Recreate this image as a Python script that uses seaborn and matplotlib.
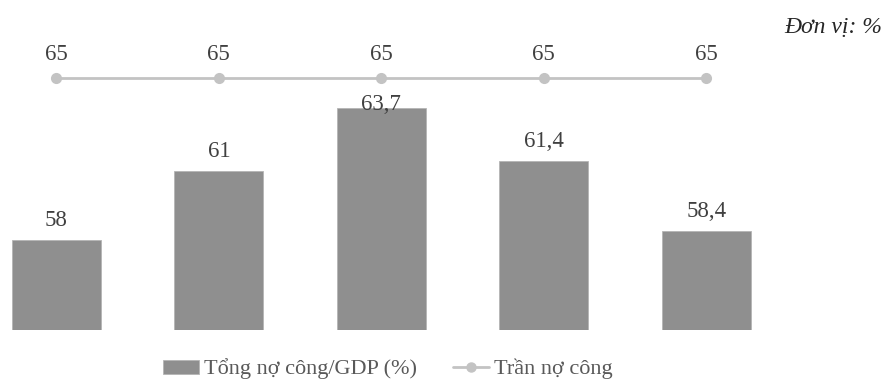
import matplotlib
matplotlib.use("Agg")
import matplotlib.pyplot as plt
import seaborn as sns
import pandas as pd
from matplotlib.patches import Patch
from matplotlib.lines import Line2D

# ---- data ----
years = ["2014", "2015", "2016", "2017", "2018"]
debt_ratio = [58, 61, 63.7, 61.4, 58.4]
debt_ceiling = [65, 65, 65, 65, 65]
debt_labels = ["58", "61", "63,7", "61,4", "58,4"]
ceiling_labels = ["65", "65", "65", "65", "65"]
series_names = ["Tổng nợ công/GDP (%)", "Trần nợ công"]
unit_text = "Đơn vị: %"

df = pd.DataFrame({"year": years, "debt": debt_ratio, "ceiling": debt_ceiling})

sns.set_theme(style="white")
plt.rcParams["font.family"] = ["Liberation Serif", "DejaVu Serif"]

BAR_C = "#8f8f8f"
LINE_C = "#c3c3c3"
TXT_C = "#404040"

fig = plt.figure(figsize=(8.86, 3.83), dpi=100)
ax = fig.add_axes([0, 53 / 383, 1, 298 / 383])

sns.barplot(data=df, x="year", y="debt", color=BAR_C, width=0.548,
            saturation=1, edgecolor="#b5b5b5", linewidth=0.6, ax=ax)
sns.pointplot(data=df, x="year", y="ceiling", color=LINE_C, markers="o",
              linewidth=2.0, markersize=6.5, ax=ax)
for ln in ax.lines:
    ln.set_clip_on(False)

ax.set_ylim(54.1, 67.0)
ax.set_xlim(-0.347, 5.107)
for s in ax.spines.values():
    s.set_visible(False)
ax.set_xticks([])
ax.set_yticks([])
ax.set_xlabel("")
ax.set_ylabel("")

label_offsets = [10, 10, -1.5, 10, 10]
for i, (v, t) in enumerate(zip(debt_ratio, debt_labels)):
    ax.annotate(t, (i, v), xytext=(0, label_offsets[i]), textcoords="offset points",
                ha="center", va="baseline", fontsize=16.5, color=TXT_C,
                annotation_clip=False)
for i, (v, t) in enumerate(zip(debt_ceiling, ceiling_labels)):
    ax.annotate(t, (i, v), xytext=(0, 13), textcoords="offset points",
                ha="center", va="baseline", fontsize=16.5, color=TXT_C,
                annotation_clip=False)

fig.text(882 / 886, 1 - 33 / 383, unit_text, ha="right", va="baseline",
         fontsize=17, style="italic", color="#262626")

handles = [
    Patch(facecolor=BAR_C, edgecolor="#b5b5b5", linewidth=0.6),
    Line2D([0], [0], color=LINE_C, lw=2.0, marker="o", markersize=6.5,
           markerfacecolor=LINE_C, markeredgecolor=LINE_C),
]
leg = fig.legend(handles, series_names, loc="center",
                 bbox_to_anchor=(388 / 886, 14 / 383), ncol=2, frameon=False,
                 fontsize=16, handlelength=1.6, handleheight=0.6,
                 handletextpad=0.25, columnspacing=1.6, borderpad=0)
for t in leg.get_texts():
    t.set_color("#595959")

fig.savefig("out.png", dpi=100)
